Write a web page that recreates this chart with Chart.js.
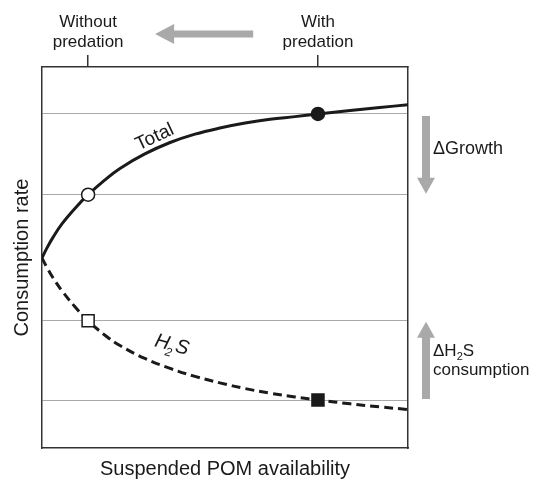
<!DOCTYPE html>
<html><head><meta charset="utf-8">
<script src="https://cdn.jsdelivr.net/npm/chart.js@4"></script>
<style>html,body{margin:0;padding:0;background:#fff}</style>
</head><body>
<canvas id="c" width="541" height="480"></canvas>
<script>
// ---- data ----
const xValues     = [0, 1.4, 3, 5.5, 9, 12.6, 17.2, 21.3, 28.1, 35, 41.8, 48.6, 55.5, 62.3, 69.1, 75.4, 84.2, 92.3, 100];
const totalValues = [49.9, 52.6, 55.3, 58.9, 62.9, 66.5, 70.4, 73.4, 77.2, 80.2, 82.4, 84.0, 85.3, 86.3, 87.0, 87.7, 88.6, 89.4, 90.1];
const h2sValues   = [49.9, 47.3, 44.7, 41.2, 37.1, 33.4, 29.6, 26.9, 23.5, 20.9, 18.8, 17.1, 15.6, 14.4, 13.4, 12.6, 11.6, 10.8, 10.1];
const gridLevels  = [87.7, 66.5, 33.4, 12.6];
const topTickValues = [12.6, 75.4];
const topTickLabels = [['Without', 'predation'], ['With', 'predation']];
const markedIndex = [5, 15];          // without predation, with predation
const openMarker  = 5;                 // open symbol (without predation)

// ---- styling ----
const FONT = '"Liberation Sans", Arial, Helvetica, sans-serif';
const INK = '#1a1a1a';
const GRAY = '#a9a9a9';
const topArrowTail = 57.7, topArrowTip = 30.9;

function toPoints(vals) { return xValues.map((x, i) => ({x: x, y: vals[i]})); }

function arrow(ctx, x1, y1, x2, y2, shaftW, headW, headL) {
  const dx = x2 - x1, dy = y2 - y1, len = Math.hypot(dx, dy);
  const ux = dx / len, uy = dy / len, nx = -uy, ny = ux;
  const bx = x2 - ux * headL, by = y2 - uy * headL;
  ctx.beginPath();
  ctx.moveTo(x1 + nx * shaftW / 2, y1 + ny * shaftW / 2);
  ctx.lineTo(bx + nx * shaftW / 2, by + ny * shaftW / 2);
  ctx.lineTo(bx + nx * headW / 2, by + ny * headW / 2);
  ctx.lineTo(x2, y2);
  ctx.lineTo(bx - nx * headW / 2, by - ny * headW / 2);
  ctx.lineTo(bx - nx * shaftW / 2, by - ny * shaftW / 2);
  ctx.lineTo(x1 - nx * shaftW / 2, y1 - ny * shaftW / 2);
  ctx.closePath();
  ctx.fill();
}

const annotations = {
  id: 'annotations',
  afterDraw(chart) {
    const {ctx, chartArea: a, scales: {x, y}} = chart;
    ctx.save();
    ctx.fillStyle = GRAY;
    // top arrow (toward "without predation")
    const ty = a.top - 33;
    arrow(ctx, x.getPixelForValue(topArrowTail), ty, x.getPixelForValue(topArrowTip), ty, 7, 20, 19);
    // right arrows
    const ax = a.right + 18;
    arrow(ctx, ax, y.getPixelForValue(gridLevels[0]) + 2, ax, y.getPixelForValue(gridLevels[1]) - 1, 8, 18, 16);
    arrow(ctx, ax, y.getPixelForValue(gridLevels[3]) - 1, ax, y.getPixelForValue(gridLevels[2]) + 1, 8, 18, 16);

    ctx.fillStyle = INK;
    ctx.textBaseline = 'alphabetic';
    ctx.textAlign = 'left';
    const tx = a.right + 25;
    ctx.font = '18px ' + FONT;
    const gMid = (y.getPixelForValue(gridLevels[0]) + y.getPixelForValue(gridLevels[1])) / 2;
    ctx.fillText('\u0394Growth', tx, gMid);
    // ΔH2S consumption
    ctx.font = '17px ' + FONT;
    const hMid = (y.getPixelForValue(gridLevels[2]) + y.getPixelForValue(gridLevels[3])) / 2;
    let px = tx;
    const b1 = hMid - 4;
    ctx.fillText('\u0394H', px, b1);
    px += ctx.measureText('\u0394H').width;
    ctx.font = '11px ' + FONT;
    ctx.fillText('2', px, b1 + 4);
    px += ctx.measureText('2').width;
    ctx.font = '17px ' + FONT;
    ctx.fillText('S', px, b1);
    ctx.fillText('consumption', tx, b1 + 19);

    // curve labels
    ctx.save();
    ctx.translate(x.getPixelForValue(30.8), y.getPixelForValue(81.6));
    ctx.rotate(-25 * Math.PI / 180);
    ctx.textAlign = 'center';
    ctx.textBaseline = 'middle';
    ctx.font = '19px ' + FONT;
    ctx.fillText('Total', 0, 0);
    ctx.restore();

    ctx.save();
    ctx.translate(x.getPixelForValue(35.5), y.getPixelForValue(27.0));
    ctx.rotate(15 * Math.PI / 180);
    ctx.textBaseline = 'middle';
    ctx.textAlign = 'left';
    ctx.font = 'italic 20px ' + FONT;
    const wH = ctx.measureText('H').width;
    ctx.font = 'italic 12px ' + FONT;
    const w2 = ctx.measureText('2').width;
    ctx.font = 'italic 20px ' + FONT;
    const wS = ctx.measureText('S').width;
    let sx = -(wH + w2 + wS) / 2;
    ctx.fillText('H', sx, 0); sx += wH;
    ctx.font = 'italic 12px ' + FONT;
    ctx.fillText('2', sx - 2, 8); sx += w2;
    ctx.font = 'italic 20px ' + FONT;
    ctx.fillText('S', sx, 0);
    ctx.restore();

    ctx.restore();
  }
};

new Chart(document.getElementById('c'), {
  type: 'line',
  data: {
    datasets: [
      {
        label: 'Total',
        data: toPoints(totalValues),
        borderColor: INK,
        borderWidth: 3,
        tension: 0.4,
        pointRadius: c => markedIndex.includes(c.dataIndex) ? 6.5 : 0,
        pointStyle: 'circle',
        pointBackgroundColor: c => c.dataIndex === openMarker ? '#fff' : INK,
        pointBorderColor: INK,
        pointBorderWidth: 1.5,
        fill: false
      },
      {
        label: 'H2S',
        data: toPoints(h2sValues),
        borderColor: INK,
        borderWidth: 3,
        borderDash: [9, 5],
        tension: 0.4,
        pointRadius: c => markedIndex.includes(c.dataIndex) ? 8.5 : 0,
        pointStyle: 'rect',
        pointBackgroundColor: c => c.dataIndex === openMarker ? '#fff' : INK,
        pointBorderColor: INK,
        pointBorderWidth: 1.5,
        fill: false
      }
    ]
  },
  options: {
    responsive: false,
    animation: false,
    events: [],
    layout: {padding: {left: 0, right: 133, top: 10, bottom: 1}},
    plugins: {legend: {display: false}, tooltip: {enabled: false}},
    scales: {
      x: {
        type: 'linear', position: 'bottom', min: 0, max: 100,
        grid: {display: false, drawTicks: false},
        ticks: {display: false},
        border: {display: true, color: '#333', width: 1.5},
        title: {display: true, text: 'Suspended POM availability', color: INK,
                font: {family: FONT, size: 20, lineHeight: 1}, padding: {top: 11, bottom: 0}}
      },
      x2: {
        type: 'linear', position: 'top', min: 0, max: 100,
        afterBuildTicks: s => { s.ticks = topTickValues.map(v => ({value: v})); },
        grid: {drawOnChartArea: false, drawTicks: true, tickLength: 12, color: '#333', lineWidth: 1.5},
        border: {display: true, color: '#333', width: 1.5},
        ticks: {
          color: INK, padding: 3, maxRotation: 0, autoSkip: false,
          font: {family: FONT, size: 17, lineHeight: 1.15},
          callback: (v) => topTickLabels[topTickValues.indexOf(v)]
        }
      },
      y: {
        type: 'linear', position: 'left', min: 0, max: 100,
        afterBuildTicks: s => { s.ticks = gridLevels.map(v => ({value: v})); },
        grid: {color: GRAY, lineWidth: 1, drawTicks: false},
        ticks: {display: false},
        border: {display: true, color: '#333', width: 1.5},
        title: {display: true, text: 'Consumption rate', color: INK,
                font: {family: FONT, size: 20, lineHeight: 1}, padding: {top: 12, bottom: 10}}
      },
      y2: {
        type: 'linear', position: 'right', min: 0, max: 100,
        grid: {display: false, drawTicks: false},
        ticks: {display: false},
        border: {display: true, color: '#333', width: 1.5}
      }
    }
  },
  plugins: [annotations]
});
</script>
</body></html>
